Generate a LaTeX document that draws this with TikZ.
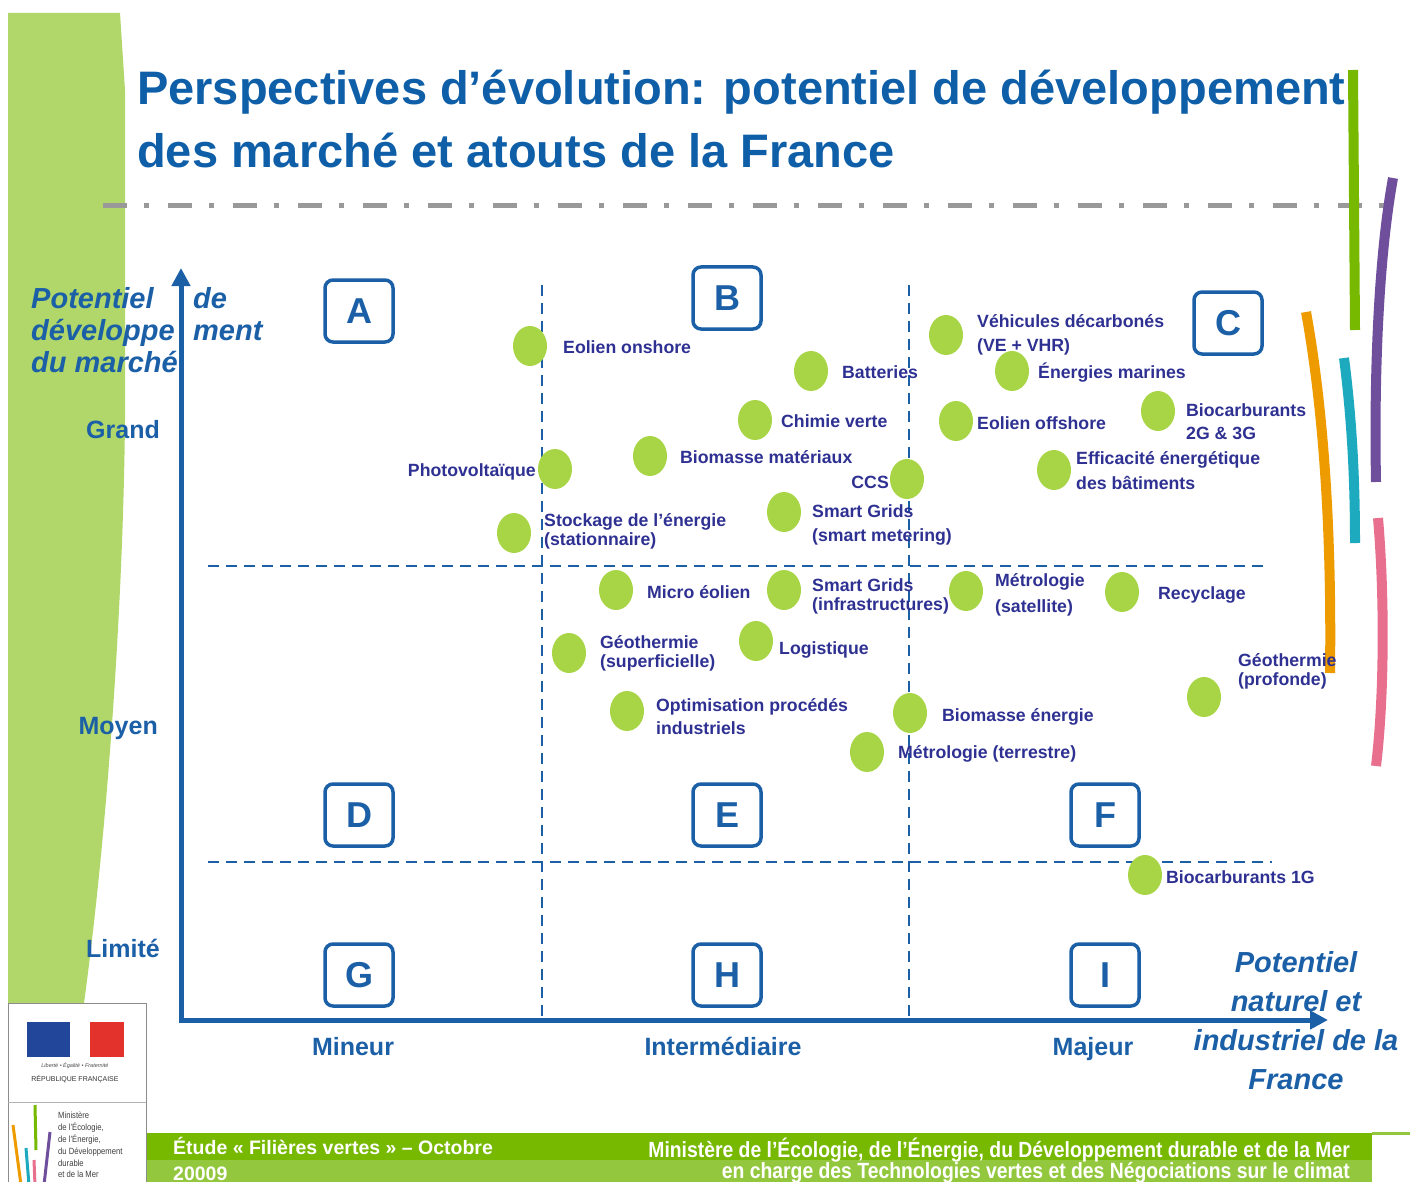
\documentclass[tikz,border=0pt]{standalone}
\usepackage{fontspec}
\setmainfont{Liberation Sans}
\usetikzlibrary{shapes.geometric,arrows.meta}
\definecolor{titleblue}{HTML}{0F5FA8}
\definecolor{axisblue}{HTML}{1B5FA7}
\definecolor{labink}{HTML}{2E3192}
\definecolor{dotgreen}{HTML}{A8D546}
\definecolor{bandgreen}{HTML}{B1D76A}
\definecolor{footdark}{HTML}{77B800}
\definecolor{footlight}{HTML}{93C83E}
\definecolor{flagblue}{HTML}{22479A}
\definecolor{flagred}{HTML}{E2322B}

\begin{document}
\begin{tikzpicture}
[x=1pt,y=-1pt,
 marketdot/.style={ellipse,fill=dotgreen,minimum width=34,minimum height=40,inner sep=0},
 lbl/.style={anchor=west,inner sep=0,text=labink,align=left,font=\bfseries\fontsize{17.7}{24}\selectfont},
 tight/.style={font=\bfseries\fontsize{17.7}{19}\selectfont},
 zonebox/.style={draw=axisblue,line width=3.5,rounded corners=8,fill=white,minimum width=68,minimum height=62,
   inner sep=0,text=axisblue,font=\bfseries\fontsize{36}{36}\selectfont},
 gridline/.style={axisblue,line width=2.5,dash pattern=on 11pt off 7pt},
 axisline/.style={axisblue,line width=5,line cap=rect,-{Triangle[length=18pt,width=18pt]}},
 levellab/.style={inner sep=0,text=axisblue,font=\bfseries\fontsize{25}{30}\selectfont},
 axtitle/.style={inner sep=0,text=axisblue,font=\bfseries\itshape\fontsize{29}{32}\selectfont},
 foottext/.style={inner sep=0,text=white,font=\bfseries\fontsize{22}{22}\selectfont},
 strip/.style={line width=10}]
\useasboundingbox (0,0) rectangle (1410,1182);
% background band and title
\fill[bandgreen] (8,13) -- (120,13) -- (125,90) -- (125,420) .. controls (123,620) and (105,850) .. (84,1003) -- (8,1003) -- cycle;
\node[anchor=base west,inner sep=0,text=titleblue,font=\bfseries\fontsize{47}{47}\selectfont] (title1) at (137,105) {Perspectives d’évolution: potentiel de développement};
\node[anchor=base west,inner sep=0,text=titleblue,font=\bfseries\fontsize{47}{47}\selectfont] (title2) at (137,168) {des marché et atouts de la France};
\draw[black!40,line width=5,dash pattern=on 24pt off 17pt on 5pt off 19pt] (103,206) -- (1385,206);
% coloured strips on the right
\draw[strip,color={rgb,255:red,118;green,185;blue,0}] (1353,70) -- (1355,330);
\draw[strip,color={rgb,255:red,111;green,78;blue,156}] (1393,178) .. controls (1378,260) and (1374,380) .. (1376,482);
\draw[strip,color={rgb,255:red,238;green,155;blue,0}] (1306,312) .. controls (1322,400) and (1332,520) .. (1330,673);
\draw[strip,color={rgb,255:red,29;green,170;blue,191}] (1344,358) .. controls (1352,420) and (1355,480) .. (1355,543);
\draw[strip,color={rgb,255:red,232;green,112;blue,142}] (1378,518) .. controls (1385,600) and (1384,700) .. (1376,766);
% grid
\coordinate (O) at (181,1020);
\coordinate (ytop) at (181,268);
\coordinate (xend) at (1328,1020);
\coordinate (v1top) at (542,285);
\coordinate (v1bot) at (542,1020);
\coordinate (v2top) at (909,285);
\coordinate (v2bot) at (909,1020);
\coordinate (h1l) at (208,566);
\coordinate (h1r) at (1268,566);
\coordinate (h2l) at (208,862);
\coordinate (h2r) at (1272,862);
\draw[gridline] (v1top) -- (v1bot);
\draw[gridline] (v2top) -- (v2bot);
\draw[gridline] (h1l) -- (h1r);
\draw[gridline] (h2l) -- (h2r);
\draw[axisline] (O) -- (ytop);
\draw[axisline] (O) -- (xend);
% zones
\foreach \l/\x/\y in {A/359/311,B/727/298,C/1228/323,D/359/815,E/727/815,F/1105/815,G/359/975,H/727/975,I/1105/975}
\node[zonebox] (zone\l) at (\x,\y) {\l};
% axis texts
\node[axtitle,anchor=north west,align=left] (ytitle1) at (31,287) {Potentiel\\développe\\du marché};
\node[axtitle,anchor=north west,align=left] (ytitle2) at (193,287) {de\\ment};
\node[levellab,anchor=base east] (grand) at (160,438) {Grand};
\node[levellab,anchor=base east] (moyen) at (158,734) {Moyen};
\node[levellab,anchor=base east] (limite) at (160,957) {Limité};
\node[levellab,anchor=base] (mineur) at (353,1055) {Mineur};
\node[levellab,anchor=base] (interm) at (723,1055) {Intermédiaire};
\node[levellab,anchor=base] (majeur) at (1093,1055) {Majeur};
\node[axtitle,align=center,font=\bfseries\itshape\fontsize{29}{39}\selectfont] (xtitle) at (1296,1021) {Potentiel\\naturel et\\industriel de la\\France};
% markets
\foreach \n/\x/\y in {eolon/530/346,batt/811/371,chimie/755/420,vehic/946/335,marines/1012/371,biocarb/1158/411,
  eoloff/956/421,effic/1054/470,photov/555/469,biomat/650/456,ccs/907/479,sgmeter/784/512,stock/514/533,
  microeol/616/590,sginfra/784/590,metsat/966/591,recycl/1122/592,geosup/569/653,logist/756/641,geoprof/1204/697,
  optim/627/711,bioener/910/713,metter/867/752,biocarbone/1145/875}
\node[marketdot] (\n) at (\x,\y) {};
\node[lbl] (eolon-l) at (563,347) {Eolien onshore};
\node[lbl] (batt-l) at (842,372) {Batteries};
\node[lbl] (chimie-l) at (781,421) {Chimie verte};
\node[lbl] (vehic-l) at (977,335) {Véhicules décarbonés\\(VE + VHR)};
\node[lbl] (marines-l) at (1038,373) {Énergies marines};
\node[lbl,font=\bfseries\fontsize{17.7}{23}\selectfont] (biocarb-l) at (1186,422) {Biocarburants\\2G \& 3G};
\node[lbl] (eoloff-l) at (977,423) {Eolien offshore};
\node[lbl,font=\bfseries\fontsize{17.7}{25}\selectfont] (effic-l) at (1076,471) {Efficacité énergétique\\des bâtiments};
\node[lbl,anchor=east] (photov-l) at (536,472) {Photovoltaïque};
\node[lbl] (biomat-l) at (680,457) {Biomasse matériaux};
\node[lbl,anchor=east] (ccs-l) at (889,482) {CCS};
\node[lbl] (sgmeter-l) at (812,525) {Smart Grids\\(smart metering)};
\node[lbl,tight] (stock-l) at (544,531) {Stockage de l’énergie\\(stationnaire)};
\node[lbl] (microeol-l) at (647,592) {Micro éolien};
\node[lbl,tight] (sginfra-l) at (812,596) {Smart Grids\\(infrastructures)};
\node[lbl,font=\bfseries\fontsize{17.7}{26}\selectfont] (metsat-l) at (995,595) {Métrologie\\(satellite)};
\node[lbl] (recycl-l) at (1158,595) {Recyclage};
\node[lbl,tight] (geosup-l) at (600,653) {Géothermie\\(superficielle)};
\node[lbl] (logist-l) at (779,650) {Logistique};
\node[lbl,tight] (geoprof-l) at (1238,671) {Géothermie\\(profonde)};
\node[lbl,font=\bfseries\fontsize{17.7}{23}\selectfont] (optim-l) at (656,717) {Optimisation procédés\\industriels};
\node[lbl] (bioener-l) at (942,717) {Biomasse énergie};
\node[lbl] (metter-l) at (898,754) {Métrologie (terrestre)};
\node[lbl] (biocarbone-l) at (1166,877) {Biocarburants 1G};
% footer
\fill[footdark] (145,1133) rectangle (1372,1160);
\fill[footlight] (145,1160) rectangle (1372,1182);
\fill[footlight] (1372,1132) rectangle (1410,1135);
\node[foottext,anchor=base west,font=\bfseries\fontsize{19.5}{20}\selectfont] (etude) at (173,1154) {Étude « Filières vertes » – Octobre};
\node[foottext,anchor=base west,font=\bfseries\fontsize{19.5}{20}\selectfont] (annee) at (173,1180) {20009};
\node[foottext,anchor=base east] (minist1) at (1350,1157) {\scalebox{0.88}[1]{Ministère de l’Écologie, de l’Énergie, du Développement durable et de la Mer}};
\node[foottext,anchor=base east] (minist2) at (1350,1178) {\scalebox{0.88}[1]{en charge des Technologies vertes et des Négociations sur le climat}};
% logo
\draw[black!45,fill=white,line width=1] (8,1003) rectangle (146,1190);
\fill[flagblue] (27,1022) rectangle (70,1057);
\fill[flagred] (90,1022) rectangle (124,1057);
\node[inner sep=0,text=black!70,font=\itshape\fontsize{5.5}{6}\selectfont] (devise) at (75,1066) {Liberté • Égalité • Fraternité};
\node[inner sep=0,text=black!80,font=\fontsize{7}{8}\selectfont] (republique) at (75,1079) {RÉPUBLIQUE FRANÇAISE};
\draw[black!30,line width=1] (8,1102) -- (146,1102);
\draw[line width=3,color={rgb,255:red,118;green,185;blue,0}] (35,1105) -- (36,1150);
\draw[line width=3,color={rgb,255:red,238;green,155;blue,0}] (13,1125) -- (21,1185);
\draw[line width=3,color={rgb,255:red,29;green,170;blue,191}] (26,1148) -- (29,1185);
\draw[line width=3,color={rgb,255:red,111;green,78;blue,156}] (50,1132) -- (44,1185);
\draw[line width=3,color={rgb,255:red,232;green,112;blue,142}] (34,1160) -- (35,1185);
\node[anchor=north west,inner sep=0,align=left,text=black!75,font=\fontsize{9}{11.8}\selectfont] (ministlogo) at (58,1112) {\scalebox{0.85}[1]{Ministère}\\\scalebox{0.85}[1]{de l’Écologie,}\\\scalebox{0.85}[1]{de l’Énergie,}\\\scalebox{0.85}[1]{du Développement}\\\scalebox{0.85}[1]{durable}\\\scalebox{0.85}[1]{et de la Mer}};
\end{tikzpicture}
\end{document}
